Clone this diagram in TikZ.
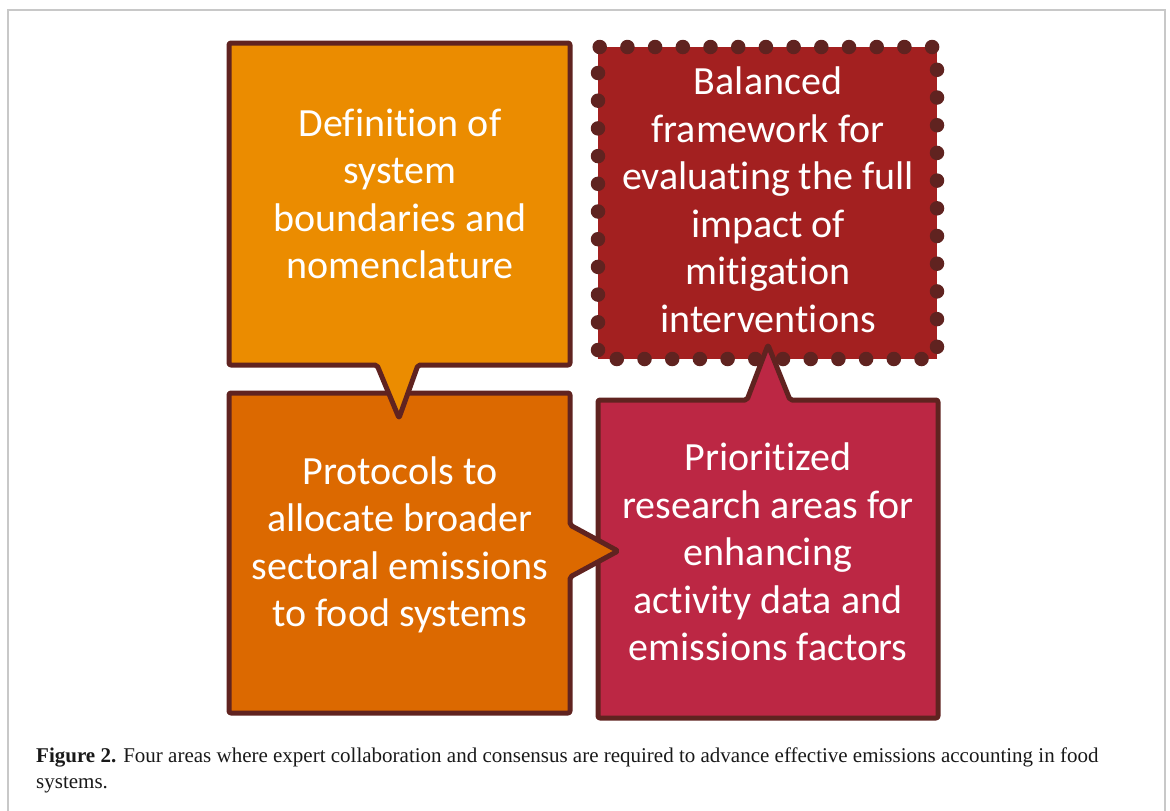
\documentclass[tikz,border=0pt]{standalone}
\usepackage{fontspec}
\setmainfont{Carlito}[Ligatures=NoCommon]
\newfontfamily\capfont{Liberation Serif}
\definecolor{edgebrown}{HTML}{602320}
\definecolor{boxorange}{HTML}{EB8C00}
\definecolor{boxdkorange}{HTML}{DC6900}
\definecolor{boxred}{HTML}{A32020}
\definecolor{boxrose}{HTML}{BC2744}
\definecolor{framegray}{HTML}{C8C8C8}
\tikzset{
  callout/.style={draw=edgebrown, line width=5pt, line join=round, rounded corners=2pt},
  boxtext/.style={text=white, align=center, font=\fontsize{40}{47.5}\selectfont, inner sep=0pt},
  captext/.style={anchor=base west, inner sep=0pt, font=\capfont\fontsize{21}{26}\selectfont, text=black!90},
}
\begin{document}
\begin{tikzpicture}[x=1pt,y=-1pt]
\useasboundingbox (0,0) rectangle (1170,811);
\draw[framegray, line width=1.5pt] (8,811) -- (8,10) -- (1165,10) -- (1165,811);
% box 3 (dotted)
\fill[boxred] (598,47) rectangle (937,359);
\draw[edgebrown, line width=14.5pt, line cap=round, dash pattern=on 0pt off 27.7pt, dash phase=-9pt] (598,359) -- (598,47) -- (937,47) -- (937,359) -- cycle;
% box 4
\draw[callout, fill=boxrose] (598,400) -- (747,400) -- (768,345) -- (790,400) -- (938,400) -- (938,718) -- (598,718) -- cycle;
% box 2
\draw[callout, fill=boxdkorange] (229,393) -- (570,393) -- (570,525) -- (618,551) -- (570,577) -- (570,713) -- (229,713) -- cycle;
% box 1
\draw[callout, fill=boxorange] (229,43) -- (570,43) -- (570,365) -- (418,365) -- (399,418) -- (377,365) -- (229,365) -- cycle;
\node[boxtext] (t1) at (400,194) {Definition of\\system\\boundaries and\\nomenclature};
\node[boxtext] (t2) at (400,545) {Protocols to\\allocate broader\\sectoral emissions\\to food systems};
\node[boxtext] (t3) at (768,200) {Balanced\\framework for\\evaluating the full\\impact of\\mitigation\\interventions};
\node[boxtext] (t4) at (768,552) {Prioritized\\research areas for\\enhancing\\activity data and\\emissions factors};
\node[captext] (c1) at (36,762) {\textbf{Figure 2.} Four areas where expert collaboration and consensus are required to advance effective emissions accounting in food};
\node[captext] (c2) at (36,788) {systems.};
\end{tikzpicture}
\end{document}
